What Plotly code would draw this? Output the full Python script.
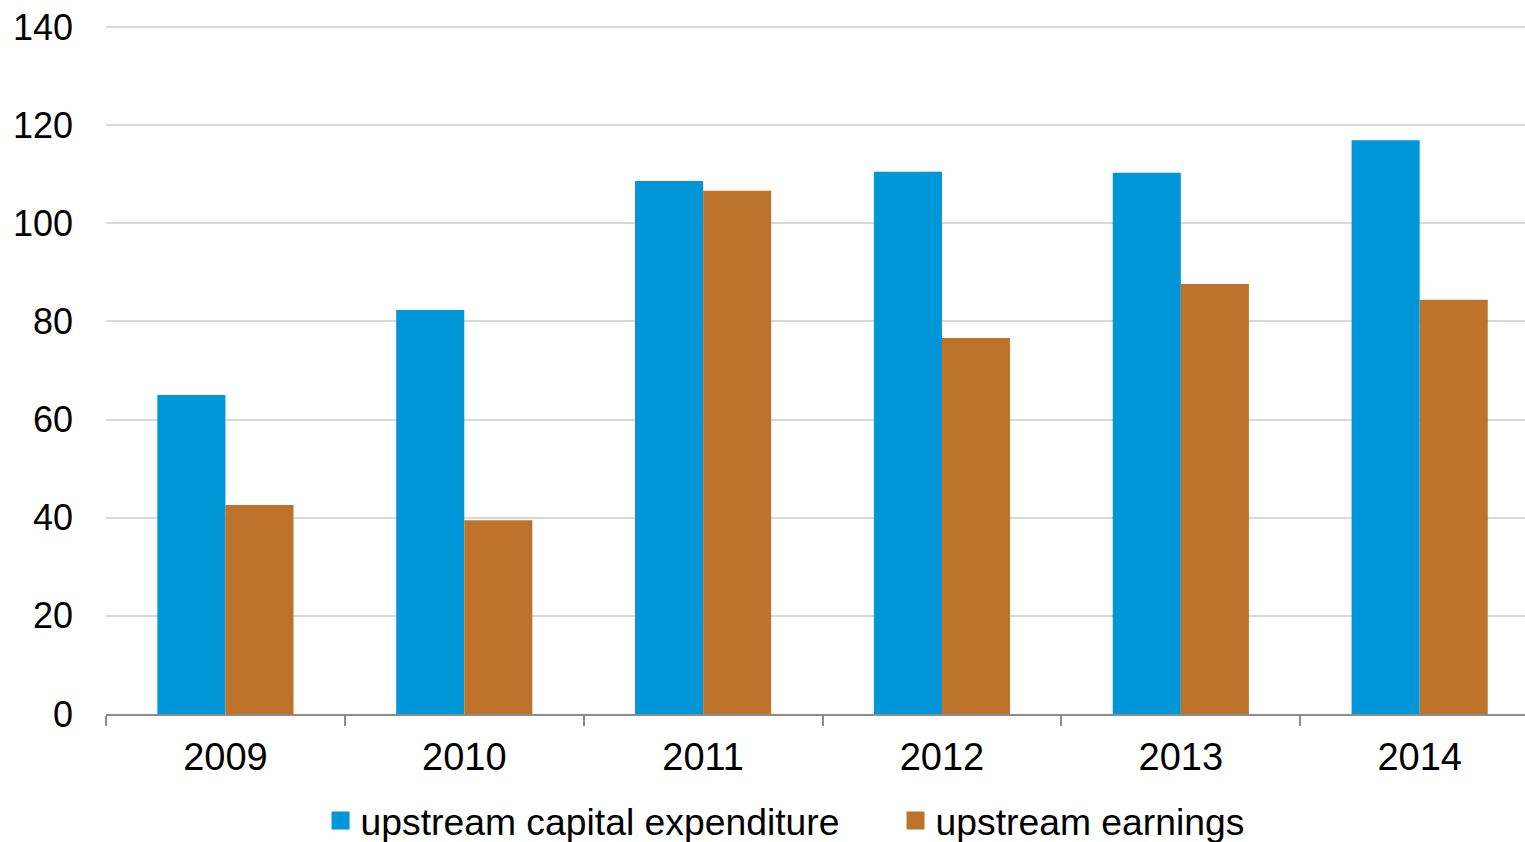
import plotly.graph_objects as go

years = ["2009", "2010", "2011", "2012", "2013", "2014"]
capex = [65.0, 82.3, 108.6, 110.5, 110.3, 116.9]
earnings = [42.6, 39.5, 106.6, 76.6, 87.6, 84.4]
y_ticks = [0, 20, 40, 60, 80, 100, 120, 140]
series_names = ["upstream capital expenditure", "upstream earnings"]

BLUE = "#0096D8"
ORANGE = "#BD732B"
FONT = "Liberation Sans, Arial, sans-serif"

fig = go.Figure()
for vals, name, color in [(capex, series_names[0], BLUE), (earnings, series_names[1], ORANGE)]:
    fig.add_trace(go.Bar(x=years, y=vals, name=name, showlegend=False,
                         marker=dict(color=color, line=dict(width=0))))

# legend entries with larger square swatches
for name, color in [(series_names[0], BLUE), (series_names[1], ORANGE)]:
    fig.add_trace(go.Scatter(x=[None], y=[None], mode="markers", name=name,
                             marker=dict(symbol="square", size=16, color=color,
                                         line=dict(width=2, color=color))))

fig.update_layout(
    width=1525, height=842,
    margin=dict(l=106, r=0, t=25, b=128, autoexpand=False),
    paper_bgcolor="white", plot_bgcolor="white",
    font=dict(family=FONT, size=36, color="#000000"),
    barmode="group", bargap=0.43, bargroupgap=0,
    showlegend=True,
    legend=dict(orientation="h", x=0.5564, xanchor="center",
                yref="container", y=0.062, yanchor="top",
                font=dict(size=37.3), itemsizing="trace", traceorder="normal",
                entrywidthmode="pixels", entrywidth=530),
)
fig.update_xaxes(
    range=[-0.5, 5.441],
    showline=True, linecolor="#8C8C8C", linewidth=2,
    ticks="outside", ticklen=10, tickwidth=2, tickcolor="#8C8C8C",
    tickson="boundaries", showgrid=False, ticklabelstandoff=8,
    tickfont=dict(size=38), automargin=False,
)
fig.update_yaxes(
    range=[0, 140.4], tickvals=y_ticks, showline=False,
    showgrid=True, gridcolor="#D9D9D9", gridwidth=2,
    zeroline=False, ticks="", ticklabelstandoff=32, automargin=False,
)

fig.write_html("out.html")
